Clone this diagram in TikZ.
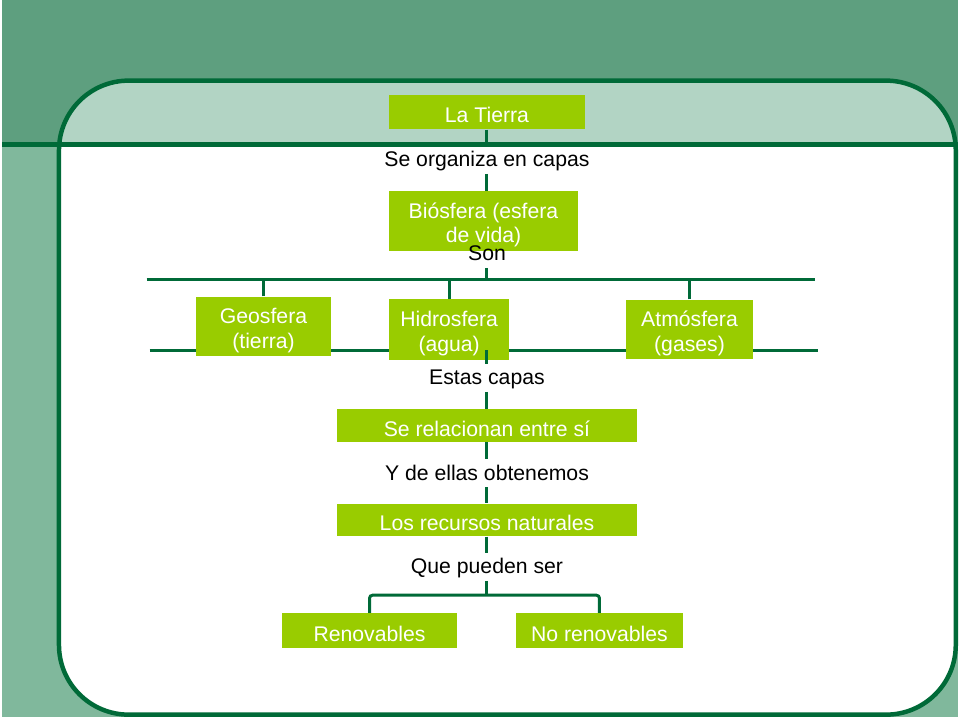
\documentclass[tikz,border=0pt]{standalone}
\usepackage{fontspec}
\setmainfont{Liberation Sans}
\definecolor{fondo}{HTML}{5E9F7F}
\definecolor{fondoclaro}{HTML}{80B89C}
\definecolor{franja}{HTML}{B2D4C4}
\definecolor{oscuro}{HTML}{006A38}
\definecolor{verde}{HTML}{99CC00}
\newcommand{\alto}{\rule{0pt}{23.5pt}}
\begin{document}
\begin{tikzpicture}[x=1pt,y=-1pt]
		\tikzset{
			caja/.style={fill=verde, text=white, inner sep=0pt, align=center, font=\fontsize{21.3}{25}\selectfont, execute at begin node={\rule{0pt}{21.5pt}}},
			etq/.style={inner sep=3pt, text height=18pt, text depth=4pt, font=\fontsize{21.3}{25}\selectfont},
			con/.style={draw=oscuro, line width=3pt},
		}
		\fill[fondoclaro] (0,0) rectangle (960,720);
		\fill[fondo] (0,0) rectangle (960,145);
		\fill[white, rounded corners=70] (57,81) rectangle (958,718);
		\begin{scope}
			\clip[rounded corners=70] (57,81) rectangle (958,718);
			\fill[franja] (0,0) rectangle (960,145);
		\end{scope}
		\draw[oscuro, line width=4.5pt, rounded corners=70] (57,81) rectangle (958,718);
		\draw[oscuro, line width=4.5pt] (0,145) -- (960,145);
		\coordinate (a1) at (145,281);
		\coordinate (a2) at (817,281);
		\coordinate (b1) at (148,352);
		\coordinate (b2) at (820,352);
		\coordinate (b0) at (487,352);
		\coordinate (r0) at (487,598);
		\draw[con] (a1) -- (a2);
		\draw[con] (b1) -- (b2);
		\node (tierra) at (487,112.5) [caja, minimum width=196pt, minimum height=35pt] {La Tierra};
		\node (bios) at (483.5,222) [caja, minimum width=189pt, minimum height=60pt] {\alto Biósfera (esfera\\de vida)};
		\node (geo) at (262.5,328) [caja, minimum width=135pt, minimum height=60pt] {\alto Geosfera\\(tierra)};
		\node (hidro) at (449,331) [caja, minimum width=120pt, minimum height=61pt] {\alto Hidrosfera\\(agua)};
		\node (atmo) at (690.5,331) [caja, minimum width=128pt, minimum height=60pt] {\alto Atmósfera\\(gases)};
		\node (rel) at (487,427.5) [caja, minimum width=302pt, minimum height=33pt] {Se relacionan entre sí};
		\node (rec) at (487,522.5) [caja, minimum width=302pt, minimum height=33pt] {Los recursos naturales};
		\node (reno) at (369,633.5) [caja, minimum width=176pt, minimum height=35pt] {Renovables};
		\node (noreno) at (600,633.5) [caja, minimum width=168pt, minimum height=35pt] {No renovables};
		\node (t1) at (487,160.5) [etq] {Se organiza en capas};
		\node (t2) at (487,255) [etq] {Son};
		\node (t3) at (487,379.5) [etq] {Estas capas};
		\node (t4) at (487,475.5) [etq] {Y de ellas obtenemos};
		\node (t5) at (487,569.5) [etq] {Que pueden ser};
		\draw[con] (tierra) -- (t1);
		\draw[con] (t1) -- (t1 |- bios.north);
		\draw[con] (t2) -- (t2 |- a1);
		\draw[con] (geo) -- (geo |- a1);
		\draw[con] (hidro) -- (hidro |- a1);
		\draw[con] (atmo) -- (atmo |- a1);
		\draw[con] (b0) -- (t3);
		\draw[con] (t3) -- (rel);
		\draw[con] (rel) -- (t4);
		\draw[con] (t4) -- (rec);
		\draw[con] (rec) -- (t5);
		\draw[con] (t5) -- (r0);
		\draw[con, rounded corners=3pt] (reno.north) -- (reno.north |- r0) -- (noreno.north |- r0) -- (noreno.north);
\end{tikzpicture}
\end{document}
